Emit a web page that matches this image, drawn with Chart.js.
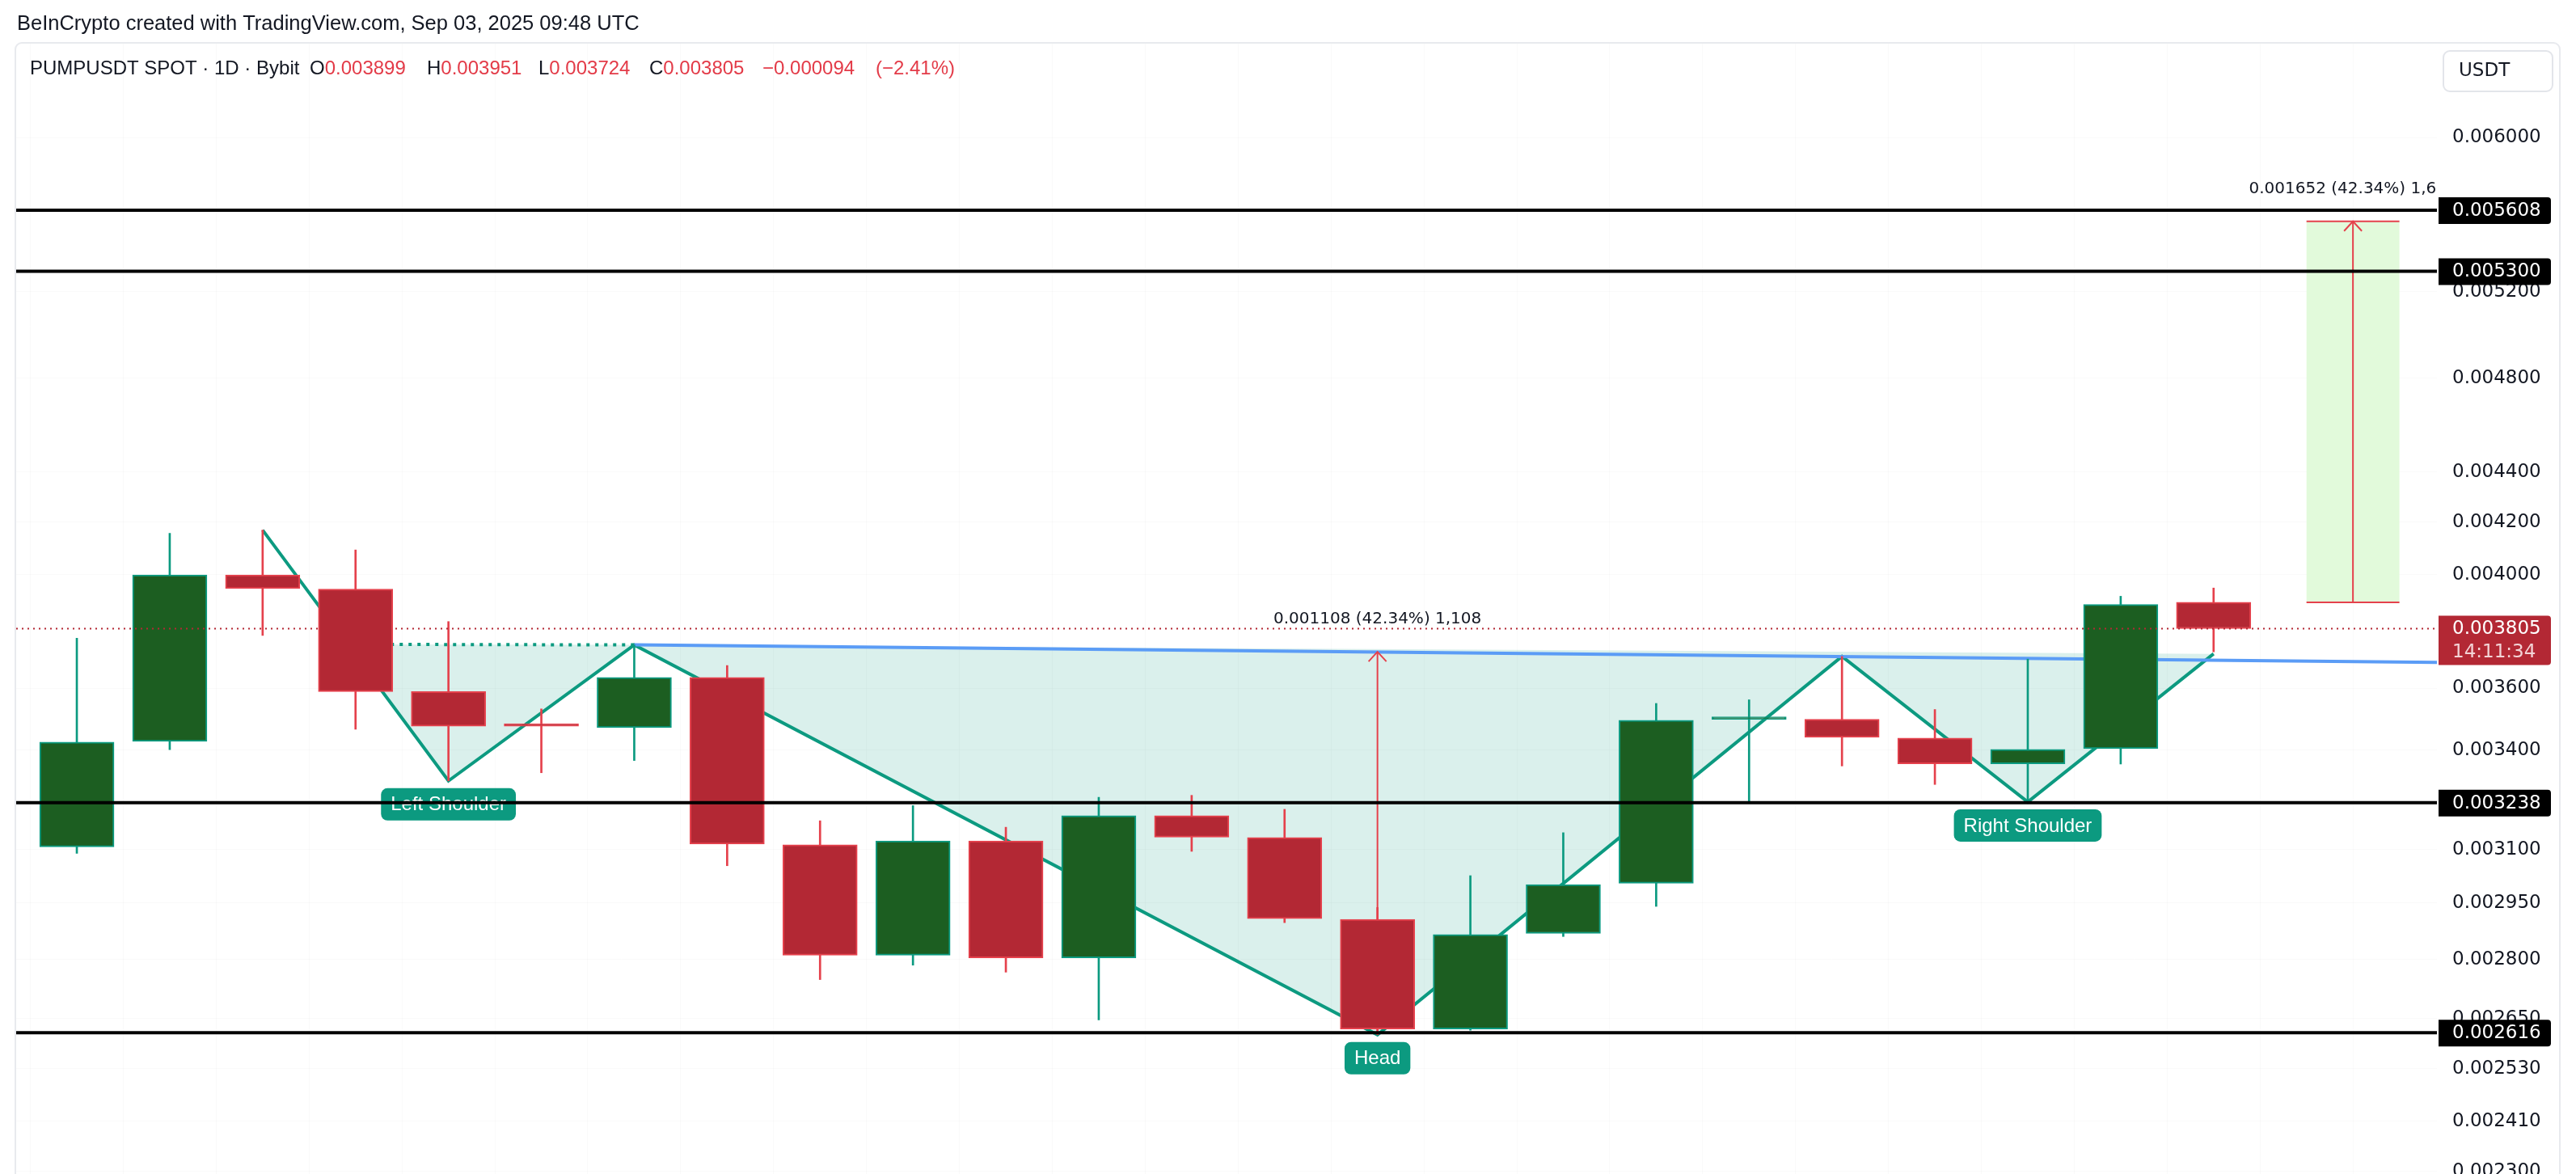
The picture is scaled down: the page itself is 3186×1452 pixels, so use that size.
<!DOCTYPE html>
<html>
<head>
<meta charset="utf-8">
<script src="https://cdn.jsdelivr.net/npm/chart.js@4.4.1/dist/chart.umd.min.js"></script>
<style>
  html, body { margin: 0; padding: 0; background: #fff; overflow: hidden; }
</style>
</head>
<body>
<canvas id="chart" width="3186" height="1452"></canvas>
<script>
// daily candles, PUMPUSDT (Bybit), oldest first
const opens  = [0.003108, 0.003427, 0.003999, 0.003947, 0.003589, 0.003480, 0.003471, 0.003637,
                0.003114, 0.002811, 0.003125, 0.002804, 0.003199, 0.003135, 0.002906, 0.002625,
                0.002868, 0.003005, 0.003498, 0.003498, 0.003438, 0.003357, 0.003404, 0.003899];
const highs  = [0.003771, 0.004157, 0.004169, 0.004093, 0.003830, 0.003532, 0.003748, 0.003677,
                0.003184, 0.003229, 0.003165, 0.003254, 0.003260, 0.003218, 0.002938, 0.003026,
                0.003149, 0.003550, 0.003562, 0.003708, 0.003530, 0.003699, 0.003921, 0.003951];
const lows   = [0.003089, 0.003401, 0.003781, 0.003466, 0.003304, 0.003329, 0.003367, 0.003054,
                0.002748, 0.002785, 0.002767, 0.002647, 0.003095, 0.002897, 0.002611, 0.002622,
                0.002860, 0.002941, 0.003237, 0.003350, 0.003293, 0.003243, 0.003356, 0.003724];
const closes = [0.003425, 0.003999, 0.003949, 0.003589, 0.003476, 0.003476, 0.003637, 0.003116,
                0.002811, 0.003125, 0.002804, 0.003199, 0.003136, 0.002908, 0.002625, 0.002865,
                0.003001, 0.003495, 0.003502, 0.003440, 0.003357, 0.003402, 0.003891, 0.003805];

const yTicks = [0.0023, 0.00241, 0.00253, 0.00265, 0.0028, 0.00295, 0.0031, 0.0034, 0.0036,
                0.004, 0.0042, 0.0044, 0.0048, 0.0052, 0.006];
const levels = [0.005608, 0.0053, 0.003238, 0.002616];

// head & shoulders drawing (candle index, price)
const patternX = [2, 4, 6, 14, 19, 21, 23];
const patternY = [0.004169, 0.003304, 0.003748, 0.002611, 0.003708, 0.003240, 0.003717];
const patternLabels = [[4, 0.003304, 'Left Shoulder'], [14, 0.002611, 'Head'], [21, 0.003240, 'Right Shoulder']];
const necklineX = [6, 25.404];
const necklineY = [0.003748, 0.003688];
const dottedX = [2.9, 6];
const dottedY = [0.003750, 0.003748];

// measure tools
const headMeasure = { x: 14, from: 0.002616, to: 0.003724, text: '0.001108 (42.34%) 1,108' };
const target = { x0: 24, x1: 25, from: 0.003899, to: 0.005551, text: '0.001652 (42.34%) 1,652' };
const countdown = '14:11:34';

const X_MIN = -0.653, X_MAX = 25.404;
const Y_MIN = 0.0022947, Y_MAX = 0.0065452;

const GREEN_BODY = '#1c5e21', GREEN_LINE = '#0b9a80';
const RED_BODY = '#b32834', RED_LINE = '#e5414c';
const TEAL = '#0c9a80', INK = '#131722', QUOTE_RED = '#e33b48';

const idx = opens.map((_, i) => i);
const up = idx.map(i => closes[i] >= opens[i]);

const overlay = {
  id: 'overlay',
  beforeDraw(chart) {
    const ctx = chart.ctx;
    ctx.save();
    ctx.fillStyle = '#fff';
    ctx.fillRect(0, 0, chart.width, chart.height);
    ctx.strokeStyle = '#e8eaee';
    ctx.lineWidth = 2;
    ctx.beginPath();
    ctx.roundRect(19, 53, 3147, 1430, 8);
    ctx.stroke();

    ctx.textBaseline = 'middle';
    ctx.fillStyle = INK;
    ctx.font = '25.5px "Liberation Sans"';
    ctx.fillText('BeInCrypto created with TradingView.com, Sep 03, 2025 09:48 UTC', 21, 30);

    ctx.font = '24px "Liberation Sans"';
    const last = opens.length - 1;
    const chg = closes[last] - opens[last];
    const pct = chg / opens[last] * 100;
    const neg = s => s.replace('-', '\u2212');
    const groups = [
      [37, [['PUMPUSDT SPOT \u00b7 1D \u00b7 Bybit', INK]]],
      [383, [['O', INK], [opens[last].toFixed(6), QUOTE_RED]]],
      [528, [['H', INK], [highs[last].toFixed(6), QUOTE_RED]]],
      [666, [['L', INK], [lows[last].toFixed(6), QUOTE_RED]]],
      [803, [['C', INK], [closes[last].toFixed(6), QUOTE_RED]]],
      [943, [[neg(chg.toFixed(6)), QUOTE_RED]]],
      [1083, [['(' + neg(pct.toFixed(2)) + '%)', QUOTE_RED]]]
    ];
    groups.forEach(([x, parts]) => {
      parts.forEach(([t, c]) => {
        ctx.fillStyle = c;
        ctx.fillText(t, x, 85);
        x += ctx.measureText(t).width;
      });
    });

    // currency button
    ctx.strokeStyle = '#e3e5ea';
    ctx.beginPath();
    ctx.roundRect(3022, 63, 135, 50, 8);
    ctx.stroke();
    ctx.fillStyle = INK;
    ctx.font = '23px "DejaVu Sans"';
    ctx.fillText('USDT', 3041, 88);
    ctx.restore();
  },
  beforeDatasetsDraw(chart) {
    const { ctx, chartArea: a } = chart;
    const px = v => chart.scales.x.getPixelForValue(v);
    const py = v => chart.scales.y.getPixelForValue(v);
    ctx.save();
    ctx.beginPath();
    ctx.rect(a.left, a.top, a.right - a.left, a.bottom - a.top);
    ctx.clip();

    ctx.fillStyle = 'rgba(8,153,129,0.15)';
    ctx.beginPath();
    for (let k = 2; k < patternX.length; k++) ctx.lineTo(px(patternX[k]), py(patternY[k]));
    ctx.closePath();
    ctx.fill();
    ctx.beginPath();
    ctx.moveTo(px(dottedX[0]), py(dottedY[0]));
    ctx.lineTo(px(patternX[1]), py(patternY[1]));
    ctx.lineTo(px(patternX[2]), py(patternY[2]));
    ctx.closePath();
    ctx.fill();

    // target zone
    ctx.fillStyle = '#e2fadb';
    const tx0 = px(target.x0), tx1 = px(target.x1);
    ctx.fillRect(tx0, py(target.to), tx1 - tx0, py(target.from) - py(target.to));

    // pattern labels
    ctx.font = '24px "Liberation Sans"';
    ctx.textBaseline = 'middle';
    ctx.textAlign = 'center';
    patternLabels.forEach(([x, y, t]) => {
      const w = ctx.measureText(t).width + 24;
      const cx = px(x), top = py(y) + 9;
      ctx.fillStyle = TEAL;
      ctx.beginPath();
      ctx.roundRect(cx - w / 2, top, w, 40, 8);
      ctx.fill();
      ctx.fillStyle = '#fff';
      ctx.fillText(t, cx, top + 21);
    });
    ctx.restore();
  },
  afterDatasetsDraw(chart) {
    const { ctx, chartArea: a } = chart;
    const px = v => chart.scales.x.getPixelForValue(v);
    const py = v => chart.scales.y.getPixelForValue(v);
    ctx.save();
    ctx.beginPath();
    ctx.rect(a.left, a.top, a.right - a.left, a.bottom - a.top);
    ctx.clip();
    ctx.strokeStyle = RED_LINE;
    ctx.lineWidth = 2;
    const head = (x, y) => {
      ctx.beginPath();
      ctx.moveTo(x - 11, y + 12);
      ctx.lineTo(x, y);
      ctx.lineTo(x + 11, y + 12);
      ctx.stroke();
    };
    head(px(headMeasure.x), py(headMeasure.to));
    const tx0 = px(target.x0), tx1 = px(target.x1), tmid = (tx0 + tx1) / 2;
    [target.from, target.to].forEach(v => {
      ctx.beginPath();
      ctx.moveTo(tx0, py(v));
      ctx.lineTo(tx1, py(v));
      ctx.stroke();
    });
    head(tmid, py(target.to));

    ctx.fillStyle = INK;
    ctx.font = '20px "DejaVu Sans"';
    ctx.textAlign = 'center';
    ctx.textBaseline = 'middle';
    ctx.fillText(headMeasure.text, px(headMeasure.x), py(headMeasure.to) - 40);
    ctx.fillText(target.text, tmid, py(target.to) - 40);
    ctx.restore();
  },
  afterDraw(chart) {
    const ctx = chart.ctx;
    const py = v => chart.scales.y.getPixelForValue(v);
    ctx.save();
    ctx.font = '23px "DejaVu Sans"';
    ctx.textBaseline = 'middle';
    levels.forEach(v => {
      const y = py(v);
      ctx.fillStyle = '#000';
      ctx.beginPath();
      ctx.roundRect(3016, y - 16, 139, 33, [0, 4, 4, 0]);
      ctx.fill();
      ctx.fillStyle = '#fff';
      ctx.fillText(v.toFixed(6), 3033, y + 1);
    });
    const last = closes[closes.length - 1];
    const y = py(last);
    ctx.fillStyle = RED_BODY;
    ctx.beginPath();
    ctx.roundRect(3016, y - 16, 139, 61, [0, 4, 4, 0]);
    ctx.fill();
    ctx.fillStyle = '#fff';
    ctx.fillText(last.toFixed(6), 3033, y + 1);
    ctx.fillStyle = '#f3d3d6';
    ctx.fillText(countdown, 3033, y + 30);
    ctx.restore();
  }
};

const lineDs = (xs, ys, color, width, order, dash) => ({
  type: 'line',
  data: xs.map((x, i) => ({ x: x, y: ys[i] })),
  borderColor: color,
  borderWidth: width,
  borderDash: dash || [],
  pointRadius: 0,
  fill: false,
  tension: 0,
  order: order
});

const datasets = [
  {
    label: 'wicks',
    data: idx.map(i => ({ x: i, y: [lows[i], highs[i]] })),
    backgroundColor: idx.map(i => up[i] ? GREEN_LINE : RED_LINE),
    barThickness: 2,
    grouped: false,
    order: 3
  },
  {
    label: 'bodies',
    data: idx.map(i => ({ x: i, y: [Math.min(opens[i], closes[i]), Math.max(opens[i], closes[i])] })),
    backgroundColor: idx.map(i => up[i] ? GREEN_BODY : RED_BODY),
    borderColor: idx.map(i => up[i] ? GREEN_LINE : RED_LINE),
    borderWidth: 2,
    borderSkipped: false,
    barThickness: 92,
    minBarLength: 3,
    grouped: false,
    order: 2
  },
  lineDs(patternX, patternY, TEAL, 4, 6),
  lineDs(dottedX, dottedY, TEAL, 4, 6, [4, 7]),
  lineDs(necklineX, necklineY, '#5b9cf6', 4, 5),
  lineDs([headMeasure.x, headMeasure.x], [headMeasure.from, headMeasure.to], RED_LINE, 2, 4),
  lineDs([(target.x0 + target.x1) / 2, (target.x0 + target.x1) / 2], [target.from, target.to], RED_LINE, 2, 4),
  lineDs([X_MIN, X_MAX], [closes[closes.length - 1], closes[closes.length - 1]], RED_BODY, 2, 1, [2, 5])
].concat(levels.map(v => lineDs([X_MIN, X_MAX], [v, v], '#000', 4, 0)));

const gridColor = 'rgba(0,0,0,0.018)';

new Chart(document.getElementById('chart').getContext('2d'), {
  type: 'bar',
  data: { datasets: datasets },
  options: {
    responsive: false,
    animation: false,
    events: [],
    layout: { padding: { left: 20, top: 54, right: 0, bottom: 0 } },
    plugins: { legend: { display: false }, tooltip: { enabled: false } },
    scales: {
      x: {
        type: 'linear',
        min: X_MIN,
        max: X_MAX,
        offset: false,
        afterBuildTicks: s => { s.ticks = idx.concat([24, 25]).map(v => ({ value: v })); },
        afterFit: s => { s.height = 0; s.paddingLeft = 0; s.paddingRight = 0; },
        grid: { color: gridColor, drawTicks: false },
        border: { display: false },
        ticks: { display: false }
      },
      y: {
        type: 'logarithmic',
        position: 'right',
        min: Y_MIN,
        max: Y_MAX,
        afterBuildTicks: s => { s.ticks = yTicks.map(v => ({ value: v })); },
        afterFit: s => { s.width = 172; s.paddingTop = 0; s.paddingBottom = 0; },
        grid: { color: gridColor, drawTicks: false },
        border: { display: false },
        ticks: {
          autoSkip: false,
          padding: 19,
          color: INK,
          font: { family: 'DejaVu Sans', size: 23 },
          callback: v => Number(v).toFixed(6)
        }
      }
    }
  },
  plugins: [overlay]
});
</script>
</body>
</html>
